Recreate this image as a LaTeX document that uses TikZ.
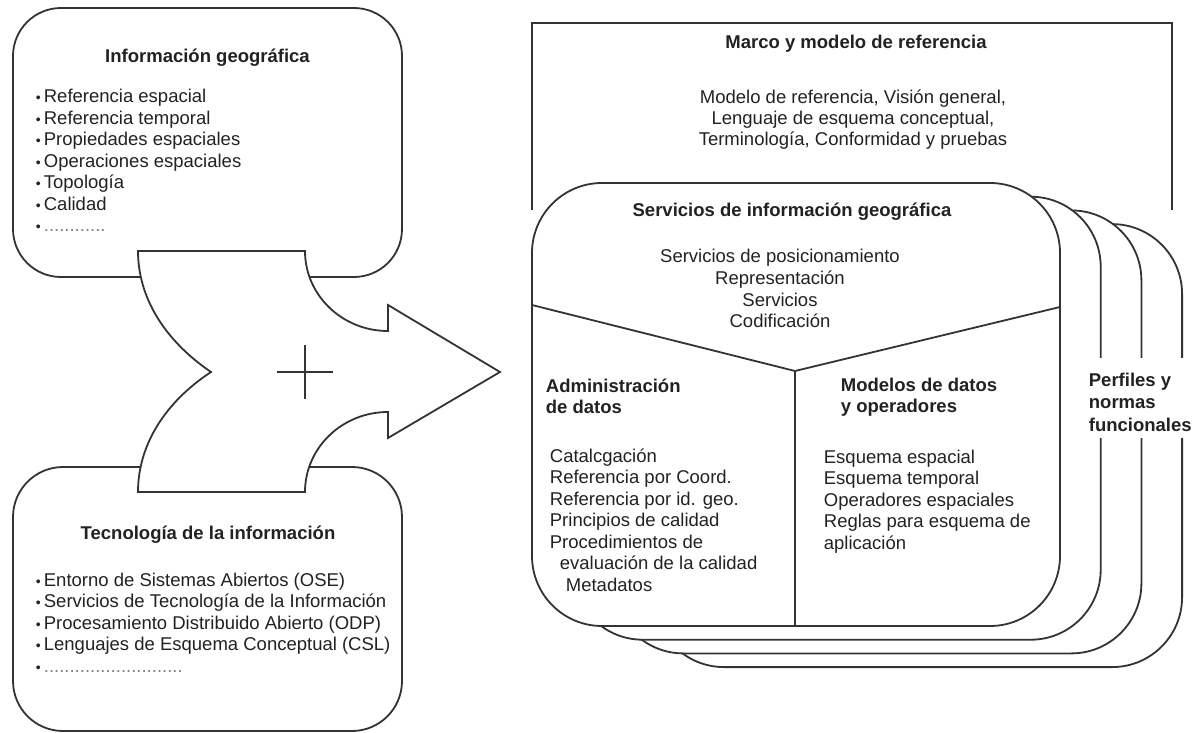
\documentclass[tikz,border=0pt]{standalone}
\usepackage{fontspec}
\setmainfont{Liberation Sans}
\usepackage{tikz}
\definecolor{inkgray}{HTML}{333333}
\definecolor{txtgray}{HTML}{222222}
\newcommand{\basefont}{\fontsize{9.25pt}{10.75pt}\selectfont}
\newcommand{\dotitem}{{\scriptsize\textbullet}\,}
\tikzset{every picture/.style={line width=0.9pt}}
\tikzset{
  panel/.style={draw=inkgray, fill=white, rounded corners=35pt},
  sidebox/.style={draw=inkgray, fill=white, rounded corners=24pt},
  head/.style={anchor=base, font=\basefont\bfseries, text=txtgray, inner sep=0pt},
  headl/.style={anchor=base west, font=\basefont\bfseries, text=txtgray, inner sep=0pt},
  entry/.style={anchor=base west, font=\basefont, text=txtgray, inner sep=0pt},
  centry/.style={anchor=base, font=\basefont, text=txtgray, inner sep=0pt},
}

\begin{document}
\begin{tikzpicture}[x=0.5pt, y=-0.5pt]
\useasboundingbox (0,0) rectangle (1195,733);
% left: geographic information
\draw[sidebox] (13,8) rectangle (402,277);
\node[head] (geotitle) at (207.5,63) {Información geográfica};
\foreach \t [count=\i] in {Referencia espacial, Referencia temporal, Propiedades espaciales, Operaciones espaciales, Topología, Calidad}
  \node[entry] (geo\i) at (35,{103+21.5*(\i-1)}) {\dotitem\t};
\node[entry] (geo7) at (35,232) {\dotitem\textcolor{gray}{............}};
%
% left: information technology
\draw[sidebox, rounded corners=25pt] (13,467) rectangle (402,731);
\node[head] (ittitle) at (208,539) {Tecnología de la información};
\foreach \t [count=\i] in {Entorno de Sistemas Abiertos (OSE), Servicios de Tecnología de la Información, Procesamiento Distribuido Abierto (ODP), Lenguajes de Esquema Conceptual (CSL)}
  \node[entry] (it\i) at (35,{586+21.5*(\i-1)}) {\dotitem\t};
\node[entry] (it5) at (35,672) {\dotitem\textcolor{gray}{...........................}};
%
% merging arrow
\draw[draw=inkgray, fill=white] (138,251) -- (305,251)
  .. controls (305,295) and (342,331) .. (388,331) -- (388,305) -- (500,372)
  -- (388,438) -- (388,412) .. controls (342,412) and (305,448) .. (305,492)
  -- (138,492) .. controls (138,446) and (164,403) .. (211,372)
  .. controls (164,340) and (138,297) .. (138,251) -- cycle;
\draw[inkgray] (277,372) -- (333,372) (305,345) -- (305,399);
%
% right: reference frame
\draw[inkgray] (532,210) -- (532,23) -- (1172,23) -- (1172,210);
\node[head] (frametitle) at (856,49) {Marco y modelo de referencia};
\foreach \t [count=\i] in {{Modelo de referencia, Visión general,}, {Lenguaje de esquema conceptual,}, {Terminología, Conformidad y pruebas}}
  \node[centry] (frame\i) at (853,{103.5+21*(\i-1)}) {\t};
%
% stacked panels
\foreach \k in {3,2,1}
  \draw[panel] ({532+40.7*\k},{183+13.7*\k}) rectangle ++(528,443);
\draw[panel] (532,183) rectangle (1060,626);
\coordinate (fork) at (795,371);
\coordinate (forkl) at (532,305);
\coordinate (forkr) at (1060,307);
\coordinate (forkb) at (795,626);
\draw[inkgray] (forkl) -- (fork) -- (forkr) (fork) -- (forkb);
%
\node[head] (sigtitle) at (792,216) {Servicios de información geográfica};
\foreach \t [count=\i] in {Servicios de posicionamiento, Representación, Servicios, Codificación}
  \node[centry] (sig\i) at (780,{263+21.5*(\i-1)}) {\t};
%
\node[headl] (admhead1) at (545,392) {Administración};
\node[headl] (admhead2) at (545,413) {de datos};
\foreach \t/\dx [count=\i] in {Catalcgación/0, Referencia por Coord./0, Referencia por id. geo./0, Principios de calidad/0, Procedimientos de/0, evaluación de la calidad/10, Metadatos/16}
  \node[entry] (adm\i) at ({549+\dx},{462+21.5*(\i-1)}) {\t};
%
\node[headl] (modhead1) at (840,391) {Modelos de datos};
\node[headl] (modhead2) at (840,412) {y operadores};
\foreach \t [count=\i] in {Esquema espacial, Esquema temporal, Operadores espaciales, Reglas para esquema de, aplicación}
  \node[entry] (mod\i) at (823,{463+21.5*(\i-1)}) {\t};
%
\fill[white] (1070,358) rectangle (1195,438);
\node[headl] (prof1) at (1088,386) {Perfiles y};
\node[headl] (prof2) at (1088,408.5) {normas};
\node[headl] (prof3) at (1088,431) {funcionales};
\end{tikzpicture}
\end{document}
